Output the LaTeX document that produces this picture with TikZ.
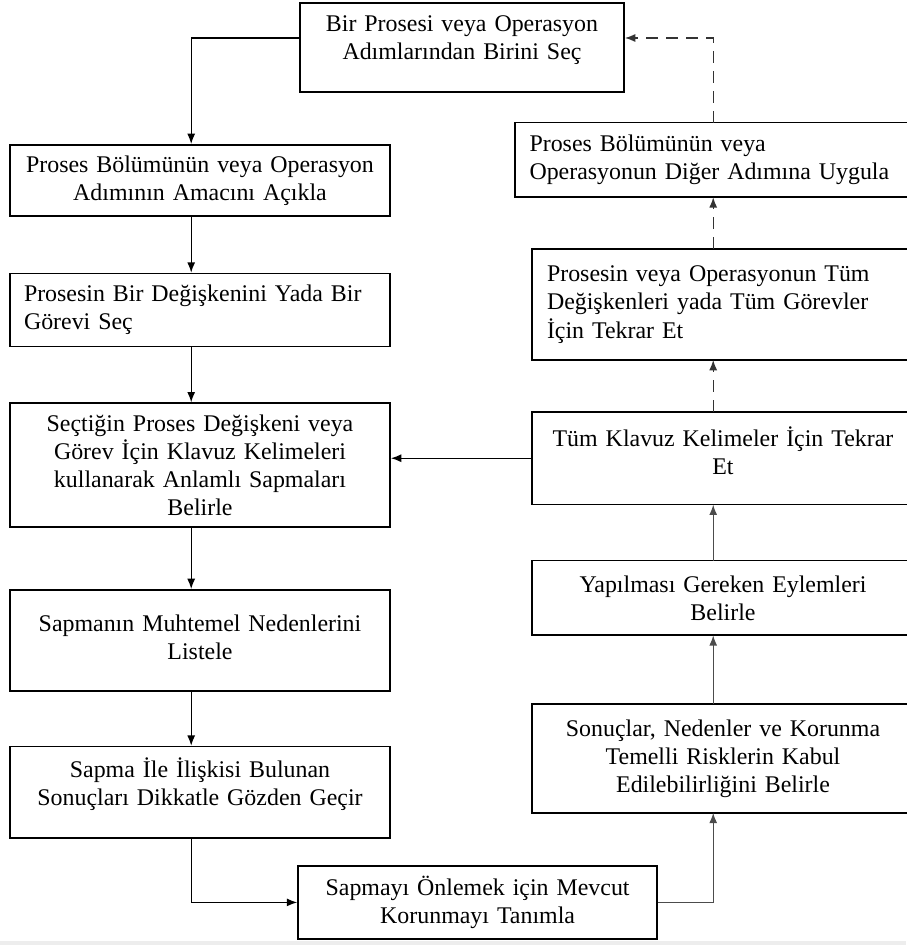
\documentclass[tikz,border=0pt]{standalone}
\usepackage{fontspec}
\setmainfont{Liberation Serif}
\usepackage{tikz}
\usetikzlibrary{arrows.meta, positioning}
\tikzset{
  lbox/.style={
    rectangle, draw=black, line width=1.2pt,
    text width=8.8cm, align=center,
    font=\fontsize{17}{20}\selectfont, inner xsep=0.35cm, inner ysep=2pt
  },
  lboxl/.style={lbox, align=left},
  % right column boxes run off the page, their frame is drawn later
  rbox/.style={lbox, draw=none},
  rboxl/.style={rbox, align=left},
  frame/.style={draw=black, line width=1.2pt},
  arr/.style={-{Latex[length=0.26cm, width=0.2cm]}, line width=1pt, color=black},
  garr/.style={-{Latex[length=0.26cm, width=0.2cm]}, line width=1pt, color=black!70},
  darr/.style={-{Latex[length=0.26cm, width=0.2cm]}, line width=1pt, color=black!80,
    dash pattern=on 0.3cm off 0.2cm},
}

\begin{document}
\begin{tikzpicture}[node distance=1.4cm]
  \useasboundingbox (0,0) rectangle (22.65,-23.625);
  \fill[black!7] (0,-23.53) rectangle (22.65,-23.625);
  % arrow lines
  \coordinate (lx) at (4.78,0);
  \coordinate (rx) at (17.83,0);
  \coordinate (ty) at (0,-0.95);
  % top and bottom
  \node[lbox, text width=7.4cm, minimum height=2.225cm, text depth=1.22cm] (sel) at (11.55,-1.19)
    {Bir Prosesi veya Operasyon\\Adımlarından Birini Seç};
  \node[lbox, text width=8.275cm, minimum height=1.825cm] (kor) at (11.94,-22.56)
    {Sapmayı Önlemek için Mevcut\\Korunmayı Tanımla};
  % left column
  \node[lbox, minimum height=1.775cm] (amac) at (5.0,-4.51)
    {Proses Bölümünün veya Operasyon\\Adımının Amacını Açıkla};
  \node[lboxl, minimum height=1.825cm, below=of amac] (degis)
    {Prosesin Bir Değişkenini Yada Bir\\Görevi Seç};
  \node[lbox, minimum height=3.1cm, below=1.375cm of degis] (sapma)
    {Seçtiğin Proses Değişkeni veya\\Görev İçin Klavuz Kelimeleri\\kullanarak Anlamlı Sapmaları\\Belirle};
  \node[lbox, minimum height=2.525cm, text depth=0.85cm, below=1.525cm of sapma] (neden)
    {Sapmanın Muhtemel Nedenlerini\\Listele};
  \node[lbox, minimum height=2.275cm, text depth=1.25cm, below=1.35cm of neden] (sonuc)
    {Sapma İle İlişkisi Bulunan\\Sonuçları Dikkatle Gözden Geçir};
  % right column
  \node[rbox, minimum height=2.675cm] (risk) at (18.075,-18.96)
    {Sonuçlar, Nedenler ve Korunma\\Temelli Risklerin Kabul\\Edilebilirliğini Belirle};
  \node[rbox, minimum height=1.825cm, above=1.72cm of risk] (eylem)
    {Yapılması Gereken Eylemleri\\Belirle};
  \node[rbox, minimum height=2.275cm, text depth=1.1cm, above=1.4cm of eylem] (klav)
    {Tüm Klavuz Kelimeler İçin Tekrar\\Et};
  \node[rboxl, minimum height=2.725cm, above=1.3cm of klav] (tekrar)
    {Prosesin veya Operasyonun Tüm\\Değişkenleri yada Tüm Görevler\\İçin Tekrar Et};
  \node[rboxl, text width=9.675cm, minimum height=1.825cm, above=1.3cm of tekrar] (diger)
    {Proses Bölümünün veya\\Operasyonun Diğer Adımına Uygula};
  \foreach \n in {risk, eylem, klav, tekrar, diger}
    \draw[frame] (\n.south west) rectangle ([xshift=1cm]\n.north east);
  % connectors
  \draw[arr] (sel.west |- ty) -| (amac.north -| lx);
  \draw[arr] (amac.south -| lx) -- (degis.north -| lx);
  \draw[arr] (degis.south -| lx) -- (sapma.north -| lx);
  \draw[arr] (sapma.south -| lx) -- (neden.north -| lx);
  \draw[arr] (neden.south -| lx) -- (sonuc.north -| lx);
  \draw[arr] (sonuc.south -| lx) |- (kor.west);
  \draw[garr] (kor.east) -| (risk.south -| rx);
  \draw[garr] (risk.north -| rx) -- (eylem.south -| rx);
  \draw[garr] (eylem.north -| rx) -- (klav.south -| rx);
  \draw[arr] (klav.west) -- (klav.west -| sapma.east);
  \draw[darr] (klav.north -| rx) -- (tekrar.south -| rx);
  \draw[darr] (tekrar.north -| rx) -- (diger.south -| rx);
  \draw[darr] (diger.north -| rx) |- (sel.east |- ty);
\end{tikzpicture}
\end{document}
